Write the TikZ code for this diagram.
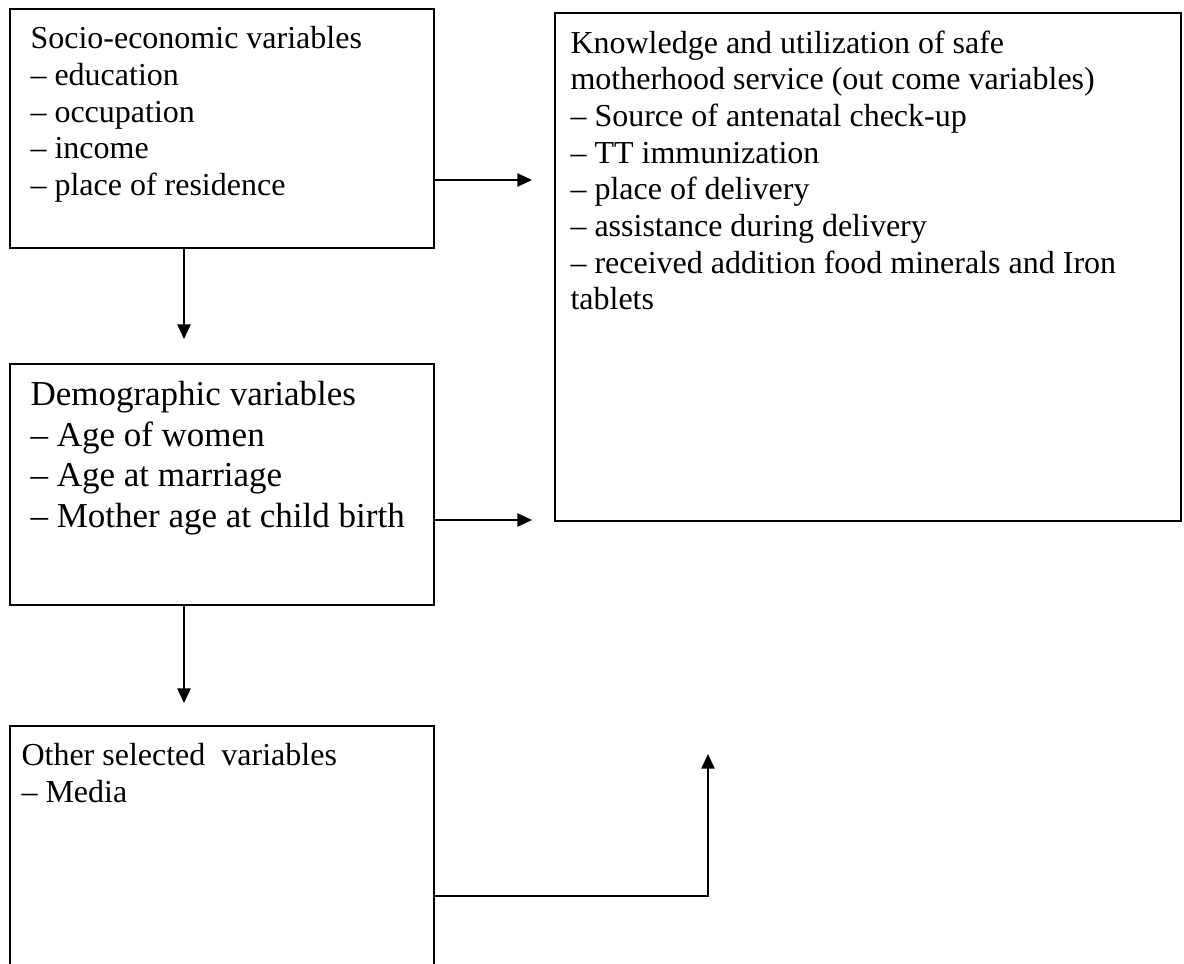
\documentclass[tikz,border=0pt]{standalone}
\usepackage{fontspec}
\setmainfont{Liberation Serif}
\usetikzlibrary{arrows.meta}

\tikzset{every picture/.style={line width=0.75pt}}

\begin{document}
\begin{tikzpicture}[x=0.75pt,y=0.75pt,yscale=-1,xscale=1,
  varbox/.style={draw, line width=1.5, inner sep=0pt, outer sep=0pt},
  vartext/.style={inner sep=0pt, anchor=north west, align=left, font=\fontsize{24}{27.5}\selectfont},
  flow/.style={line width=1.2, -{Triangle[length=11pt,width=10pt]}}]
\useasboundingbox (0,0) rectangle (1184,963);

%Shape: Rectangle [socio]
\node [varbox, minimum width=318pt, minimum height=179pt] (socio) at (222,128.65) {};
%Shape: Rectangle [outcome]
\node [varbox, minimum width=469.5pt, minimum height=381.2pt] (outcome) at (868,266.85) {};
%Shape: Rectangle [demo]
\node [varbox, minimum width=318pt, minimum height=180.75pt] (demo) at (222,484.5) {};
%Shape: Rectangle [other] (runs off the bottom)
\node [varbox, minimum width=318pt, minimum height=186.75pt] (other) at (222,850.5) {};

% Text Node
\node [vartext] (socioText) at (30,26) {Socio-economic variables\\– education\\– occupation\\– income\\– place of residence};
% Text Node
\node [vartext] (outcomeText) at (570,30) {Knowledge and utilization of safe\\motherhood service (out come variables)\\– Source of antenatal check-up\\– TT immunization\\– place of delivery\\– assistance during delivery\\– received addition food minerals and Iron\\tablets};
% Text Node
\node [vartext, font=\fontsize{26.25}{30.4}\selectfont] (demoText) at (30,381) {Demographic variables\\– Age of women\\– Age at marriage\\– Mother age at child birth};
% Text Node
\node [vartext, font=\fontsize{24}{27.75}\selectfont] (otherText) at (21,743) {Other selected\ \ variables\\– Media};

%Straight Lines [arrows]
\coordinate (tipA) at (532,180);
\coordinate (tipB) at (184,339);
\coordinate (tipC) at (532,520);
\coordinate (tipD) at (184,703);
\coordinate (elbow) at (708,896);
\coordinate (tipE) at (708,754);
\draw [flow] (socio.east |- tipA) -- (tipA);
\draw [flow] (socio.south -| tipB) -- (tipB);
\draw [flow] (demo.east |- tipC) -- (tipC);
\draw [flow] (demo.south -| tipD) -- (tipD);
\draw [flow] (other.east |- elbow) -- (elbow) -- (tipE);

\end{tikzpicture}
\end{document}
